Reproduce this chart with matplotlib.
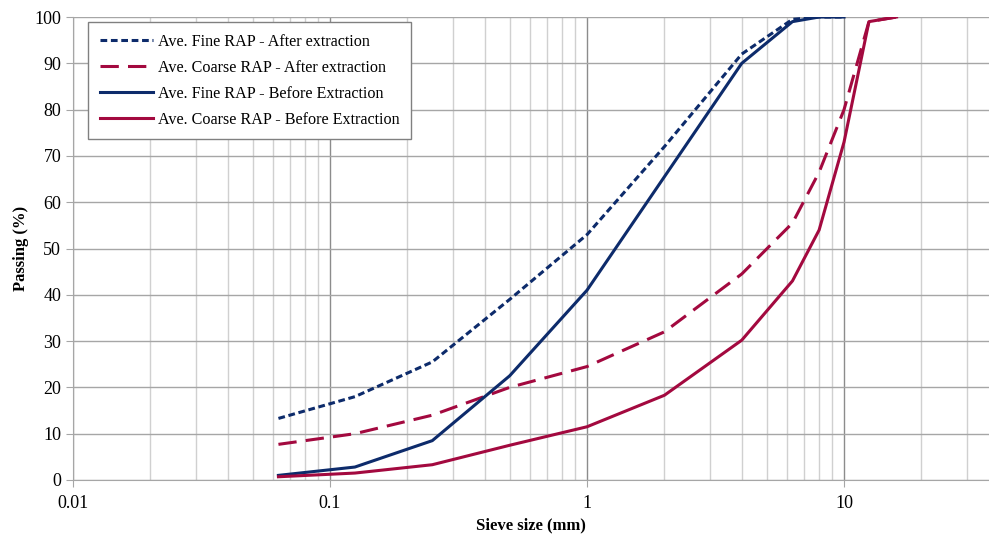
import numpy as np
import matplotlib.pyplot as plt
from matplotlib.ticker import FixedLocator, NullFormatter

plt.rcParams['font.family'] = ['Liberation Serif', 'DejaVu Serif']

# sieve sizes (mm)
sieve_fine = [0.063, 0.125, 0.25, 0.5, 1, 2, 4, 6.3, 8, 10]
sieve_coarse = [0.063, 0.125, 0.25, 0.5, 1, 2, 4, 6.3, 8, 10, 12.5, 16]

# passing (%)
fine_after = [13.3, 18.0, 25.5, 39.0, 53.0, 72.0, 92.0, 99.5, 100, 100]
coarse_after = [7.7, 10.0, 14.0, 20.0, 24.5, 32.0, 44.5, 55.5, 66.5, 80.0, 99.0, 100]
fine_before = [1.0, 2.8, 8.5, 22.5, 41.0, 65.5, 90.0, 99.0, 100, 100]
coarse_before = [0.7, 1.5, 3.3, 7.5, 11.5, 18.3, 30.2, 43.0, 54.0, 73.0, 99.0, 100]

blue = '#0d2b6b'
red = '#a3093f'

fig = plt.figure(figsize=(9.89, 5.38), dpi=100)
ax = fig.add_axes([73 / 989, 58 / 538, (989 - 73) / 989, (480 - 17) / 538])

ax.plot(sieve_fine, fine_after, color=blue, lw=2.2, ls=(0, (2.2, 1.2)),
        label='Ave. Fine RAP - After extraction')
ax.plot(sieve_coarse, coarse_after, color=red, lw=2.2, ls=(0, (6, 3)),
        label='Ave. Coarse RAP - After extraction')
ax.plot(sieve_fine, fine_before, color=blue, lw=2.2,
        label='Ave. Fine RAP - Before Extraction')
ax.plot(sieve_coarse, coarse_before, color=red, lw=2.2,
        label='Ave. Coarse RAP - Before Extraction')

ax.set_xscale('log')
ax.set_xlim(0.01, 10 ** 1.564)
ax.set_ylim(0, 100)
ax.set_yticks(np.arange(0, 101, 10))
ax.xaxis.set_major_locator(FixedLocator([0.01, 0.1, 1, 10]))
ax.set_xticklabels(['0.01', '0.1', '1', '10'])
minors = [m * 10.0 ** e for e in range(-2, 2) for m in range(2, 10)]
ax.xaxis.set_minor_locator(FixedLocator(minors))
ax.xaxis.set_minor_formatter(NullFormatter())

ax.grid(True, which='major', axis='y', color='#a6a6a6', lw=1)
ax.grid(True, which='major', axis='x', color='#8c8c8c', lw=1)
ax.grid(True, which='minor', axis='x', color='#d0d0d0', lw=1)
ax.set_axisbelow(True)

for s in ['top', 'right']:
    ax.spines[s].set_visible(False)
for s in ['left', 'bottom']:
    ax.spines[s].set_color('#a6a6a6')
ax.tick_params(axis='both', which='major', colors='#a6a6a6', labelcolor='black',
               labelsize=13, length=5)
ax.tick_params(axis='x', which='minor', length=0)
ax.tick_params(axis='x', pad=6)

ax.set_xlabel('Sieve size (mm)', fontsize=12, fontweight='bold', labelpad=4)
ax.set_ylabel('Passing (%)', fontsize=12, fontweight='bold', labelpad=4)

leg = ax.legend(loc='upper left', bbox_to_anchor=(15 / 916, 1 - 5 / 463),
                fontsize=11.6, frameon=True, fancybox=False, framealpha=1,
                edgecolor='#808080', handlelength=3.3, labelspacing=0.62,
                borderpad=0.72, borderaxespad=0, handletextpad=0.3)
leg.get_frame().set_linewidth(1)

fig.savefig('out.png', dpi=100)
